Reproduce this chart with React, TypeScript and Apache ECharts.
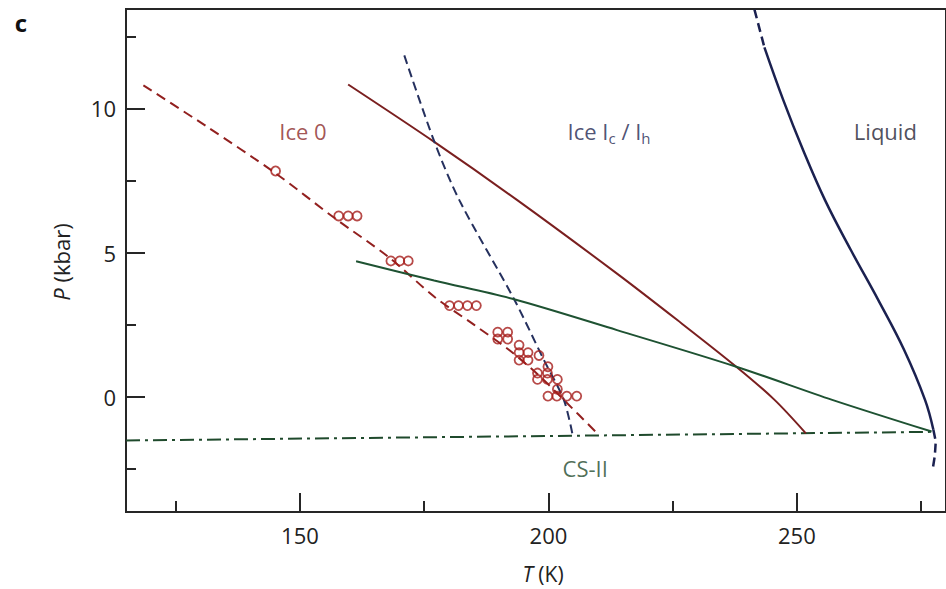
import React, { useEffect, useRef } from 'react';
import * as echarts from 'echarts';

// Axis ticks
const tMajorTicks = [150, 200, 250];
const tMinorTicks = [125, 175, 225, 275];
const pMajorTicks = [0, 5, 10];
const pMinorTicks = [-2.5, 2.5, 7.5, 12.5];

// Experimental points (T K, P kbar)
const ice0Points = [
  [145.1, 7.83],
  [157.8, 6.27], [159.7, 6.27], [161.5, 6.27],
  [168.3, 4.71], [170.1, 4.71], [171.8, 4.71],
  [180.1, 3.16], [181.9, 3.16], [183.7, 3.16], [185.5, 3.16],
  [189.8, 2.24], [191.8, 2.24], [189.8, 2.0], [191.8, 2.0],
  [194.1, 1.79], [194.1, 1.53], [195.9, 1.53], [194.1, 1.27], [195.9, 1.27], [198.1, 1.43],
  [199.9, 1.04], [197.8, 0.82], [199.8, 0.82], [197.8, 0.6], [199.8, 0.6], [201.8, 0.6],
  [201.8, 0.26],
  [199.9, 0.02], [201.7, 0.02], [203.7, 0.02], [205.7, 0.02],
];

// Ice 0 (dashed red) line
const ice0Dashed = [
  [118.5, 10.8], [131, 9.4], [145.1, 7.75], [157.1, 6.18], [167.8, 4.85],
  [177.1, 3.46], [185, 2.5], [192.1, 1.62], [198, 0.75], [203.1, -0.11], [209.8, -1.27],
];

// Ice 0 / Ice I boundary (solid brown)
const ice0IceIBoundary = [
  [159.7, 10.83], [177.1, 8.83], [193.8, 6.81], [213.8, 4.27], [226, 2.65],
  [237.8, 1.04], [245.5, -0.11], [251.8, -1.27],
];

// Blue dashed line
const iceIDashed = [
  [171, 11.84], [177.1, 8.82], [182.1, 6.81], [193.1, 3.38], [199.1, 1.27],
  [203.1, -0.11], [204.8, -1.27],
];

// Green solid line
const greenLine = [
  [161.3, 4.7], [177, 4.03], [193.1, 3.38], [213.8, 2.31], [237.8, 1.04],
  [257.1, -0.11], [277.1, -1.21],
];

// CS-II dash-dot line
const cs2Line = [
  [115, -1.52], [277.1, -1.22],
];

// Liquid boundary
const liquidTopDashed = [
  [241.46, 13.43], [243.46, 12.12],
];
const liquidSolid = [
  [243.46, 12.12], [247.28, 10.28], [251.28, 8.54], [255.68, 6.81], [260.88, 5.08],
  [266.38, 3.35], [271.58, 1.62], [275.78, -0.11], [277.46, -1.15],
];
const liquidBottomDashed = [
  [277.46, -1.15], [277.94, -1.55], [277.75, -2.05], [277.3, -2.54],
];

// Region labels (T, P, key)
const regionLabels: [number, number, string][] = [
  [150.6, 9.21, 'Ice 0'],
  [212.2, 9.21, 'IceI'],
  [267.8, 9.21, 'Liquid'],
  [207.4, -2.47, 'CS-II'],
];
const regionText: Record<string, string> = {
  'Ice 0': 'Ice 0',
  IceI: '{a|Ice I}{s|c}{a| / I}{s|h}',
  Liquid: 'Liquid',
  'CS-II': 'CS-II',
};
const regionColor: Record<string, string> = {
  'Ice 0': '#8a2a2a',
  IceI: '#222650',
  Liquid: '#1f2233',
  'CS-II': '#1f4a2c',
};

const FONT = '"Open Sans", "Noto Sans", sans-serif';
const AXIS = '#262626';

export default function App() {
  const ref = useRef<HTMLDivElement>(null);
  useEffect(() => {
    if (!ref.current) return;
    const chart = echarts.init(ref.current, undefined, { renderer: 'svg' });
    const lineSeries = (data: number[][], color: string, width: number, type: any, z = 3, smooth: any = 0.3) => ({
      type: 'line',
      data,
      symbol: 'none',
      showSymbol: false,
      smooth,
      z,
      silent: true,
      lineStyle: { color, width, type },
    });
    const xBase = {
      type: 'value',
      min: 115,
      max: 280,
      position: 'bottom',
      splitLine: { show: false },
    };
    const yBase = {
      type: 'value',
      min: -4,
      max: 13.45,
      position: 'left',
      splitLine: { show: false },
    };
    chart.setOption({
      animation: false,
      backgroundColor: '#ffffff',
      grid: {
        left: 126,
        top: 9,
        width: 825,
        height: 503,
        show: true,
        borderColor: AXIS,
        borderWidth: 2,
        backgroundColor: 'transparent',
      },
      xAxis: [
        {
          ...xBase,
          axisLine: { show: true, onZero: false, lineStyle: { color: AXIS, width: 2 } },
          axisTick: { show: true, inside: true, length: 19, customValues: tMajorTicks, lineStyle: { color: AXIS, width: 2 } },
          axisLabel: { show: true, customValues: tMajorTicks, margin: 12, fontSize: 22, color: '#222', fontFamily: FONT },
        },
        {
          ...xBase,
          axisLine: { show: false, onZero: false },
          axisTick: { show: true, inside: true, length: 11, customValues: tMinorTicks, lineStyle: { color: AXIS, width: 2 } },
          axisLabel: { show: false },
        },
      ],
      yAxis: [
        {
          ...yBase,
          axisLine: { show: true, onZero: false, lineStyle: { color: AXIS, width: 2 } },
          axisTick: { show: true, inside: true, length: 19, customValues: pMajorTicks, lineStyle: { color: AXIS, width: 2 } },
          axisLabel: { show: true, customValues: pMajorTicks, margin: 10, fontSize: 22, color: '#222', fontFamily: FONT },
        },
        {
          ...yBase,
          axisLine: { show: false, onZero: false },
          axisTick: { show: true, inside: true, length: 10, customValues: pMinorTicks, lineStyle: { color: AXIS, width: 2 } },
          axisLabel: { show: false },
        },
      ],
      graphic: [
        {
          type: 'text',
          x: 21,
          y: 22,
          style: {
            text: 'c',
            font: `bold 24px ${FONT}`,
            fill: '#111',
            textAlign: 'center',
            textVerticalAlign: 'middle',
            align: 'center',
            verticalAlign: 'middle',
          },
        },
        {
          type: 'text',
          x: 543,
          y: 574,
          style: {
            text: '{i|T} (K)',
            fontSize: 21,
            fontFamily: FONT,
            fill: '#222',
            lineHeight: 22,
            textAlign: 'center',
            textVerticalAlign: 'middle',
            align: 'center',
            verticalAlign: 'middle',
            rich: { i: { fontStyle: 'italic', fontSize: 21, lineHeight: 22, fontFamily: FONT, fill: '#222' } },
          },
        },
        {
          type: 'text',
          x: 61,
          y: 262,
          rotation: Math.PI / 2,
          style: {
            text: '{i|P} (kbar)',
            fontSize: 22,
            fontFamily: FONT,
            fill: '#222',
            textAlign: 'center',
            textVerticalAlign: 'middle',
            align: 'center',
            verticalAlign: 'middle',
            rich: { i: { fontStyle: 'italic', fontSize: 22, fontFamily: FONT, fill: '#222' } },
          },
        },
      ],
      series: [
        lineSeries(cs2Line, '#1f4a2c', 2, [14, 5, 3, 5], 2, false),
        lineSeries(ice0Dashed, '#92201f', 2, [10, 6], 3),
        lineSeries(ice0IceIBoundary, '#7a1f1f', 2, 'solid', 3),
        lineSeries(iceIDashed, '#25305e', 2, [9, 5], 3),
        lineSeries(greenLine, '#1e5232', 2, 'solid', 3),
        lineSeries(liquidTopDashed, '#1b2150', 2.5, [9, 5], 3, false),
        lineSeries(liquidSolid, '#1b2150', 2.5, 'solid', 3, 0.4),
        lineSeries(liquidBottomDashed, '#1b2150', 2.5, [9, 5], 3, false),
        {
          type: 'scatter',
          data: ice0Points,
          symbol: 'circle',
          symbolSize: 9,
          z: 5,
          silent: true,
          itemStyle: { color: 'rgba(255,255,255,0)', borderColor: '#a51d1a', borderWidth: 1.8 },
        },
        {
          type: 'scatter',
          symbolSize: 1,
          z: 6,
          silent: true,
          itemStyle: { color: 'rgba(0,0,0,0)' },
          data: regionLabels.map(([t, p, key]) => ({
            value: [t, p],
            label: {
              show: true,
              position: 'inside',
              formatter: regionText[key],
              color: regionColor[key],
              fontSize: 22,
              fontFamily: FONT,
              rich: {
                a: { fontSize: 22, fontFamily: FONT, color: regionColor[key] },
                s: { fontSize: 15, fontFamily: FONT, color: regionColor[key], padding: [14, 0, 0, 0] },
              },
            },
          })),
        },
      ],
    });
    return () => chart.dispose();
  }, []);
  return (
    <div
      ref={ref}
      style={{ position: 'fixed', left: 0, top: 0, width: 946, height: 589, background: '#fff' }}
    />
  );
}
